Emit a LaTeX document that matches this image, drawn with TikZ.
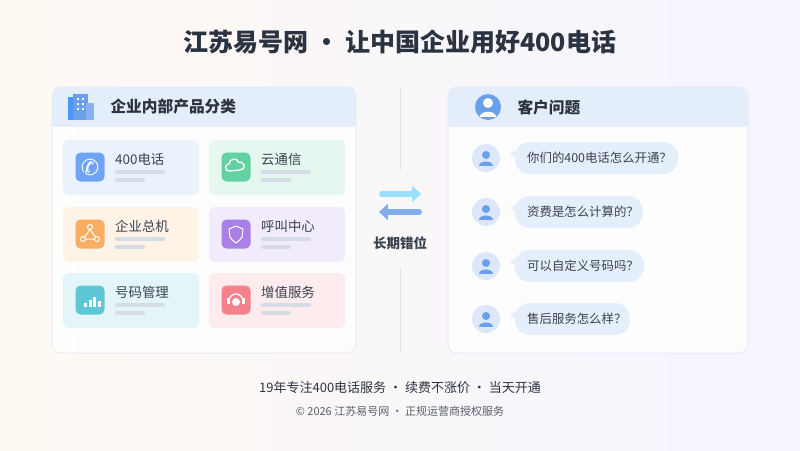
\documentclass[tikz,border=0pt]{standalone}
\usepackage{fontspec}
\setmainfont{Noto Sans CJK SC}
\newfontfamily\djfont{DejaVu Sans}
\usetikzlibrary{arrows.meta}
\definecolor{ink}{HTML}{2B3340}
\definecolor{ink2}{HTML}{3A4250}
\definecolor{band}{HTML}{E4EEFB}
\definecolor{brd}{HTML}{DCE5F2}
\definecolor{bar}{HTML}{D5DCE6}
\definecolor{qb}{HTML}{E5EEFB}
\definecolor{av}{HTML}{DCE8FA}
\definecolor{avi}{HTML}{6A9FEA}
\tikzset{
 panel/.style={draw=brd,fill=white,fill opacity=.85,rounded corners=9pt,line width=.6pt},
 card/.style={rounded corners=6pt},
 ico/.style={rounded corners=5pt,minimum size=29pt,inner sep=0pt},
 ctext/.style={anchor=west,font=\fontsize{13.4}{15}\selectfont,text=ink2,inner sep=0},
 qtext/.style={anchor=west,font=\fontsize{12.4}{14}\selectfont,text=ink2,inner sep=0},
 bubble/.style={fill=qb,rounded corners=15pt},
 wl/.style={draw=white,line width=1.3pt,line cap=round,line join=round}
}
\begin{document}
\begin{tikzpicture}[x=1pt,y=-1pt]
\useasboundingbox (0,0) rectangle (800,450);
\shade[left color=white!92!orange!60!white,right color=blue!4!white] (0,0) rectangle (800,450);
\node[font=\fontsize{25}{28}\selectfont\bfseries,text=ink] (title) at (400,42) {江苏易号网 · 让中国企业用好400电话};
% left panel
\draw[panel] (52,87) rectangle (356,353);
\begin{scope}
\clip[rounded corners=9pt] (52,87) rectangle (356,353);
\fill[band] (52,87) rectangle (356,127);
\end{scope}
% building icon
\fill[blue!60!cyan!70!white] (68,97) rectangle (78,120);
\fill[avi] (73,94) rectangle (88,120);\fill[avi!80] (86,103) rectangle (94,120);
\foreach \yy in {98,103,108}{\fill[white] (77,\yy) rectangle (79,\yy+2);\fill[white] (82,\yy) rectangle (84,\yy+2);}
\node[anchor=west,font=\fontsize{15.7}{18}\selectfont\bfseries,text=ink] (lh) at (107,107) {企业内部产品分类};
\foreach \x/\y/\cc/\ic/\t/\n in {63/140/EAF2FE/6FA3F5/400电话/a,209/140/E5F7EF/62D2A2/云通信/b,63/207/FFF3E8/F8AE62/企业总机/c,209/207/F1EBFC/AA80E8/呼叫中心/d,63/273/E3F5F8/5EC6D4/号码管理/e,209/273/FDEBEE/F4818B/增值服务/f}{
 \definecolor{cc}{HTML}{\cc}\definecolor{ic}{HTML}{\ic}
 \fill[card,cc] (\x,\y) rectangle (\x+136,\y+55);
 \node[ico,fill=ic] (i\n) at (\x+27,\y+27) {};
 \node[ctext] (t\n) at (\x+52,\y+19) {\t};
 \draw[bar,line width=4pt,line cap=round] (\x+54,\y+32) -- (\x+100,\y+32);
 \draw[bar,line width=4pt,line cap=round] (\x+54,\y+40) -- (\x+80,\y+40);
}
% icons glyphs
\node[text=white,font=\djfont\fontsize{22}{22}\selectfont,inner sep=0] at (ia) {✆};
\draw[wl] ([xshift=-7pt,yshift=-4pt]ib.center) arc (270:90:3.5pt) arc (180:20:5pt) arc (110:-90:4pt) -- cycle;
\draw[wl,line width=1pt] ([yshift=7pt]ic.center) circle (2.5pt) ([xshift=-7pt,yshift=-5pt]ic.center) circle (2.5pt) ([xshift=7pt,yshift=-5pt]ic.center) circle (2.5pt);
\draw[wl,line width=1pt] ([yshift=4.5pt]ic.center)--([xshift=-5.5pt,yshift=-3pt]ic.center) ([yshift=4.5pt]ic.center)--([xshift=5.5pt,yshift=-3pt]ic.center) ([xshift=-4.5pt,yshift=-5pt]ic.center)--([xshift=4.5pt,yshift=-5pt]ic.center);
\draw[wl,line width=1pt] ([yshift=8pt]id.center) -- ([xshift=7pt,yshift=5pt]id.center) -- ([xshift=6pt,yshift=-3pt]id.center) .. controls ([xshift=4pt,yshift=-6pt]id.center) .. ([yshift=-9pt]id.center) .. controls ([xshift=-4pt,yshift=-6pt]id.center) .. ([xshift=-6pt,yshift=-3pt]id.center) -- ([xshift=-7pt,yshift=5pt]id.center) -- cycle;
\foreach \dx/\h in {-6/4,-1.5/7,3/10,7.5/6}{\fill[white] ([xshift=\dx pt,yshift=-7pt]ie.center) rectangle ++(3pt,\h pt);}
\draw[wl] ([xshift=-7pt,yshift=-1pt]if.center) arc (180:0:7pt);
\fill[white] ([xshift=-9pt,yshift=-4pt]if.center) rectangle ++(3pt,6pt);\fill[white] ([xshift=6pt,yshift=-4pt]if.center) rectangle ++(3pt,6pt);
\fill[white] ([yshift=-2pt]if.center) circle (4pt);
% middle
\draw[brd,line width=.8pt] (400,87) -- (400,170) (400,268) -- (400,352);
\draw[-{Triangle[length=9pt,width=16pt]},line width=6pt,line cap=round,blue!30!cyan!40!white] (382,194) -- (421,194);
\draw[-{Triangle[length=9pt,width=16pt]},line width=6pt,line cap=round,avi!85] (419,212) -- (379,212);
\node[font=\fontsize{13.5}{15}\selectfont\bfseries,text=ink2] (mid) at (400,243) {长期错位};
% right panel
\draw[panel] (448,87) rectangle (748,353);
\begin{scope}
\clip[rounded corners=9pt] (448,87) rectangle (748,353);
\fill[band] (448,87) rectangle (748,127);
\end{scope}
\fill[avi] (488,107) circle (13);
\fill[white] (488,103) circle (5);
\fill[white] (480,117) .. controls (480,110) and (496,110) .. (496,117) -- cycle;
\node[anchor=west,font=\fontsize{15.7}{18}\selectfont\bfseries,text=ink] (rh) at (514,107) {客户问题};
\foreach \y/\w/\t/\n in {158/678/你们的400电话怎么开通？/1,212/643/资费是怎么计算的？/2,266/644/可以自定义号码吗？/3,319/630/售后服务怎么样？/4}{
 \fill[av] (486,\y) circle (14);
 \fill[avi] (486,\y-3) circle (4);
 \fill[avi] (479,\y+8) .. controls (479,\y+2) and (493,\y+2) .. (493,\y+8) -- cycle;
 \fill[qb] (510,\y-4) -- (516,\y-8) -- (516,\y) -- cycle;
 \fill[bubble] (515,\y-16) rectangle (\w,\y+16);
 \node[qtext] (q\n) at (527,\y) {\t};
}
% footer
\node[font=\fontsize{13}{15}\selectfont,text=ink] (f1) at (400,388) {19年专注400电话服务 · 续费不涨价 · 当天开通};
\node[font=\fontsize{11}{13}\selectfont,text=ink2!85] (f2) at (400,411) {© 2026 江苏易号网 · 正规运营商授权服务};
\end{tikzpicture}
\end{document}
